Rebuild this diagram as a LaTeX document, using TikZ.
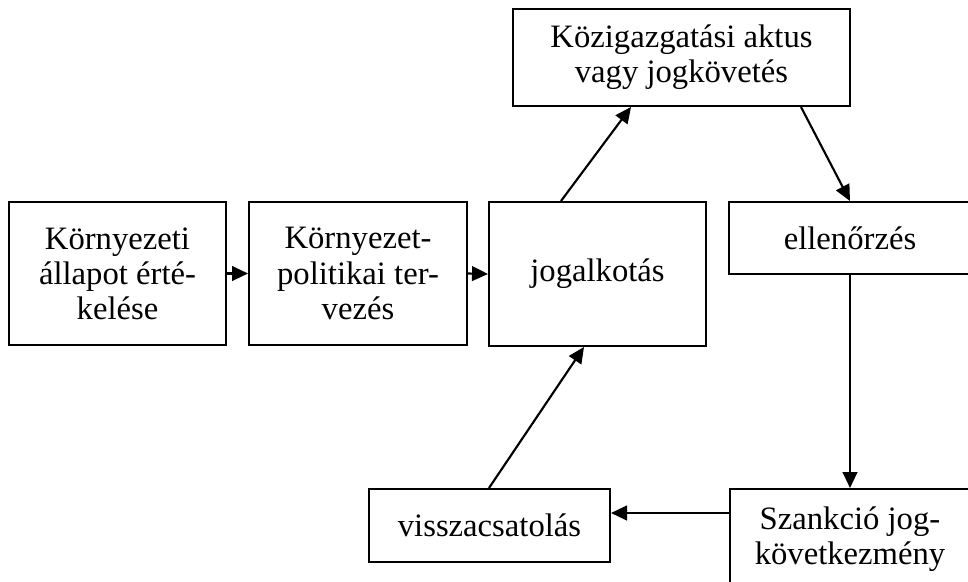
\documentclass[tikz,border=0pt]{standalone}
\usepackage{fontspec}
\setmainfont{Liberation Serif}
\usetikzlibrary{arrows.meta,calc}
\tikzset{
  box/.style={draw, line width=1.5pt, inner sep=0pt, align=center,
    font=\fontsize{24.5}{26.3}\selectfont},
  arr/.style={line width=1.6pt, -{Triangle[length=12pt,width=11pt]}}
}
\begin{document}
\begin{tikzpicture}[x=0.75pt,y=-0.75pt]
\clip (0,0) rectangle (968,582);
\useasboundingbox (0,0) rectangle (968,582);
\node[box, minimum width={217*0.75pt}, minimum height={143*0.75pt}] (A) at (117.5,273.5) {Környezeti\\állapot érté-\\kelése};
\node[box, minimum width={218*0.75pt}, minimum height={143*0.75pt}] (B) at (358,273.5) {Környezet-\\politikai ter-\\vezés};
\node[box, minimum width={217*0.75pt}, minimum height={144*0.75pt}] (C) at (597.5,274) {jogalkotás};
\node[box, minimum width={337*0.75pt}, minimum height={97*0.75pt}] (D) at (681.5,57.5) {Közigazgatási aktus\\vagy jogkövetés};
\node[box, minimum width={242*0.75pt}, minimum height={72*0.75pt}] (E) at (850,238) {ellenőrzés};
\node[box, minimum width={240*0.75pt}, minimum height={100*0.75pt}] (F) at (850,539) {Szankció jog-\\következmény};
\node[box, minimum width={241*0.75pt}, minimum height={73*0.75pt}] (G) at (489.5,525.5) {visszacsatolás};
\draw[arr] (A.east) -- (B.west);
\draw[arr] (B.east) -- (C.west);
\draw[arr] ([xshift={73*0.75pt}]C.north west) -- ([xshift={119*0.75pt}]D.south west);
\draw[arr] ([xshift={289*0.75pt}]D.south west) -- (E.north);
\draw[arr] (E.south) -- (F.north);
\coordinate (fw) at ([yshift={-25*0.75pt}]F.north west);
\draw[arr] (fw) -- (fw -| G.east);
\draw[arr] ([xshift={121*0.75pt}]G.north west) -- ([xshift={96*0.75pt}]C.south west);
\end{tikzpicture}
\end{document}
